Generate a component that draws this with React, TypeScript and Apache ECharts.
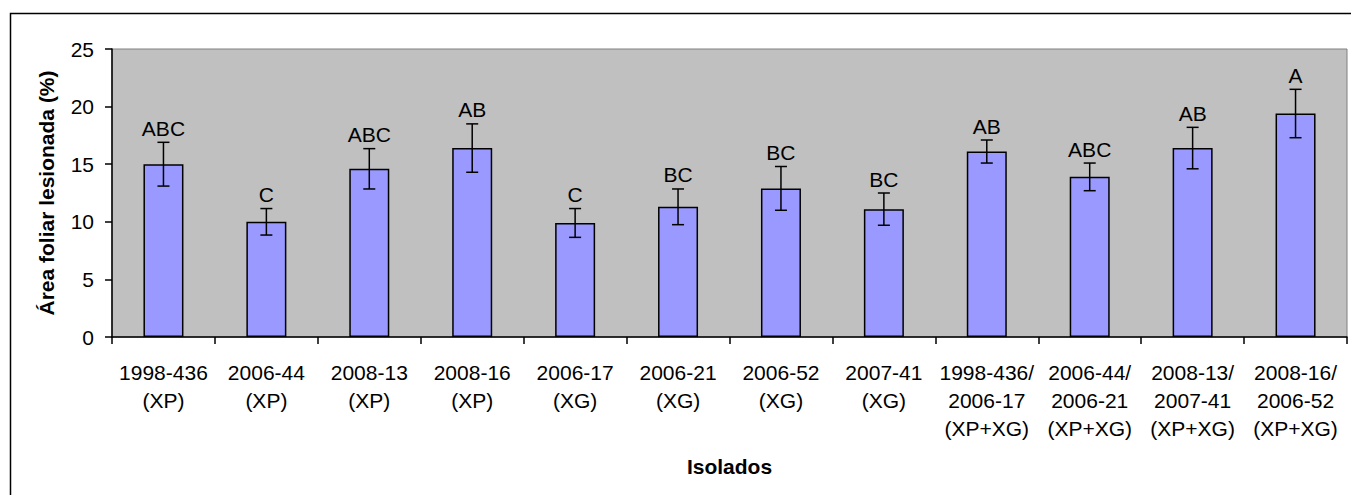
import React, { useEffect, useRef } from "react";
import * as echarts from "echarts";

const categories = [
  "1998-436\n(XP)",
  "2006-44\n(XP)",
  "2008-13\n(XP)",
  "2008-16\n(XP)",
  "2006-17\n(XG)",
  "2006-21\n(XG)",
  "2006-52\n(XG)",
  "2007-41\n(XG)",
  "1998-436/\n2006-17\n(XP+XG)",
  "2006-44/\n2006-21\n(XP+XG)",
  "2008-13/\n2007-41\n(XP+XG)",
  "2008-16/\n2006-52\n(XP+XG)",
];
const means = [15.0, 10.0, 14.6, 16.4, 9.9, 11.3, 12.9, 11.1, 16.1, 13.9, 16.4, 19.4];
const errors = [1.9, 1.15, 1.75, 2.1, 1.25, 1.55, 1.9, 1.4, 1.0, 1.2, 1.8, 2.1];
const letters = ["ABC", "C", "ABC", "AB", "C", "BC", "BC", "BC", "AB", "ABC", "AB", "A"];
const yTicks = { min: 0, max: 25, interval: 5 };

const FONT = "'Liberation Sans', Arial, sans-serif";

export default function App() {
  const ref = useRef<HTMLDivElement>(null);
  useEffect(() => {
    if (!ref.current) return;
    const chart = echarts.init(ref.current, undefined, { renderer: "svg" });
    const errData = means.map((m, i) => [i, m - errors[i], m + errors[i], letters[i]]);
    chart.setOption({
      animation: false,
      backgroundColor: "#ffffff",
      textStyle: { fontFamily: FONT },
      graphic: [
        {
          type: "rect",
          shape: { x: 10.5, y: 13.5, width: 1350, height: 490 },
          style: { fill: "none", stroke: "#000", lineWidth: 1.5 },
          z: -10,
          silent: true,
        },
      ],
      grid: {
        left: 112,
        top: 49,
        right: 4,
        bottom: 158,
        show: true,
        backgroundColor: "#C0C0C0",
        borderColor: "#808080",
        borderWidth: 1,
      },
      xAxis: {
        type: "category",
        data: categories,
        boundaryGap: true,
        name: "Isolados",
        nameLocation: "middle",
        nameGap: 119,
        nameTextStyle: { fontFamily: FONT, fontSize: 21, fontWeight: "bold", color: "#000" },
        axisLine: { show: true, lineStyle: { color: "#000", width: 1.5 } },
        axisTick: { show: true, alignWithLabel: false, length: 7, lineStyle: { color: "#000", width: 1.5 } },
        axisLabel: {
          interval: 0,
          margin: 21,
          fontFamily: FONT,
          fontSize: 21,
          lineHeight: 28,
          color: "#000",
          align: "center",
        },
        splitLine: { show: false },
      },
      yAxis: {
        type: "value",
        min: yTicks.min,
        max: yTicks.max,
        interval: yTicks.interval,
        name: "Área foliar lesionada (%)",
        nameLocation: "middle",
        nameGap: 55,
        nameTextStyle: { fontFamily: FONT, fontSize: 21, fontWeight: "bold", color: "#000" },
        axisLine: { show: true, lineStyle: { color: "#000", width: 1.5 } },
        axisTick: { show: true, length: 7, lineStyle: { color: "#000", width: 1.5 } },
        axisLabel: { margin: 18, fontFamily: FONT, fontSize: 21, color: "#000" },
        splitLine: { show: false },
      },
      series: [
        {
          type: "bar",
          data: means,
          barWidth: 40,
          itemStyle: { color: "#9999FF", borderColor: "#000", borderWidth: 1.5 },
          z: 2,
        },
        {
          type: "custom",
          data: errData,
          z: 3,
          renderItem: (params: any, api: any) => {
            const i = api.value(0);
            const lo = api.coord([i, api.value(1)]);
            const hi = api.coord([i, api.value(2)]);
            const x = lo[0];
            const half = 6;
            const style = { stroke: "#000", lineWidth: 1.5 };
            return {
              type: "group",
              children: [
                { type: "line", shape: { x1: x, y1: lo[1], x2: x, y2: hi[1] }, style },
                { type: "line", shape: { x1: x - half, y1: hi[1], x2: x + half, y2: hi[1] }, style },
                { type: "line", shape: { x1: x - half, y1: lo[1], x2: x + half, y2: lo[1] }, style },
                {
                  type: "text",
                  x: x,
                  y: hi[1] - 14,
                  style: {
                    text: letters[params.dataIndex],
                    fill: "#000",
                    font: `21px ${FONT}`,
                    textAlign: "center",
                    textVerticalAlign: "middle",
                  },
                },
              ],
            };
          },
        },
      ],
    });
    return () => chart.dispose();
  }, []);
  return (
    <div
      ref={ref}
      style={{ position: "absolute", left: 0, top: 0, width: 1351, height: 495, background: "#fff" }}
    />
  );
}
